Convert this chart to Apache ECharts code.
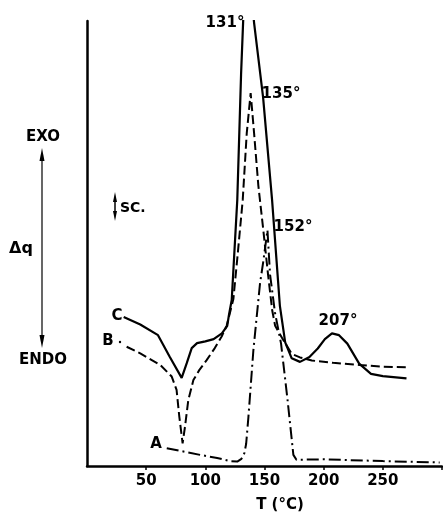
<!DOCTYPE html>
<html>
<head>
<meta charset="utf-8">
<script src="https://cdn.jsdelivr.net/npm/echarts@6/dist/echarts.min.js"></script>
<style>
html,body{margin:0;padding:0;background:#fff;}
#chart{width:443px;height:517px;}
</style>
</head>
<body>
<div id="chart"></div>
<script>
// Temperature (°C) and Δq (arbitrary units, 0 = baseline of the frame, 100 = top)
var tempC = [31, 45, 60, 70, 80, 84.3, 88.5, 93, 100, 107, 114, 118.5, 120, 122.3, 127, 130.2, 132, 135.5, 141.2, 148.8, 156.4, 163, 167.5, 173, 180, 188, 195, 201, 207, 213, 220, 230, 240, 250, 270];
var dqC   = [33.5, 31.8, 29.4, 24.5, 19.8, 23.1, 26.5, 27.6, 28.0, 28.5, 29.8, 31.5, 34, 37.3, 59.8, 88, 100.2, 115, 99.6, 82.9, 59.8, 36, 27.8, 24.2, 23.4, 24.5, 26.4, 28.5, 29.8, 29.4, 27.5, 23.0, 20.7, 20.2, 19.7];

var tempB = [33.5, 45, 62, 71.6, 75.7, 78, 80.8, 82.8, 85.6, 89.9, 95, 101.1, 108, 113.8, 118, 123.7, 127.5, 131.6, 135, 138.3, 141.2, 144.8, 149, 153, 156.5, 159, 165, 173, 180, 190, 208, 230, 250, 270];
var dqB   = [26.8, 25.3, 22.7, 20.1, 17.1, 11.1, 5.1, 8.8, 14.8, 19.3, 21.6, 23.8, 26.5, 29.1, 31.5, 37.5, 48, 59.8, 74.8, 83.8, 74.8, 63, 53, 43, 35, 31.5, 28.7, 25.2, 24.4, 23.7, 23.2, 22.7, 22.3, 22.2];

var tempA = [67.4, 95.5, 110, 121, 127, 130.5, 133, 134.5, 136.4, 140.6, 146.2, 149, 152.5, 154.7, 158.9, 164, 169.5, 174.4, 177, 200, 250, 298];
var dqA   = [4.0, 2.5, 1.8, 1.1, 1.0, 1.6, 2.9, 5, 11, 26, 41, 46, 53, 43, 34.4, 27.5, 14.8, 2.5, 1.4, 1.5, 1.1, 0.8];

var xTickLabels = [50, 100, 150, 200, 250];
var xTickMarks = [50, 100, 150, 200, 250, 300];

function pairs(xs, ys){ return xs.map(function(x,i){ return [x, ys[i]]; }); }

var FONT = 'DejaVu Sans';
var chart = echarts.init(document.getElementById('chart'), null, {renderer:'canvas'});

function txt(x, y, s, size, align){
  return {type:'text', x:x, y:y, style:{text:s, font: 'bold '+(size||16)+'px "'+FONT+'"', fill:'#000', align:align||'center', verticalAlign:'middle'}};
}

chart.setOption({
  animation:false,
  backgroundColor:'#fff',
  grid:{left:87, right:1, top:21, bottom:51},
  xAxis:{
    type:'value', min:0, max:300, interval:50,
    axisLine:{show:true, lineStyle:{color:'#000', width:2.5}},
    axisTick:{show:true, customValues:xTickMarks, length:4, lineStyle:{color:'#000', width:1.5}},
    axisLabel:{show:true, customValues:xTickLabels, color:'#000', fontFamily:FONT, fontWeight:'bold', fontSize:15, margin:8},
    splitLine:{show:false}
  },
  yAxis:{
    type:'value', min:0, max:100,
    axisLine:{show:true, lineStyle:{color:'#000', width:2.5}},
    axisTick:{show:false}, axisLabel:{show:false}, splitLine:{show:false}
  },
  series:[
    {name:'C', type:'line', data:pairs(tempC, dqC), showSymbol:false, symbol:'none', clip:true,
     lineStyle:{color:'#000', width:2.2, type:'solid'}},
    {name:'B', type:'line', data:pairs(tempB, dqB), showSymbol:false, symbol:'none', clip:true,
     lineStyle:{color:'#000', width:2, type:[9,4]}},
    {name:'A', type:'line', data:pairs(tempA, dqA), showSymbol:false, symbol:'none', clip:true,
     lineStyle:{color:'#000', width:2, type:[12,4,2,4]}}
  ],
  graphic:[
    txt(225, 23, '131°', 15),
    txt(281, 94, '135°', 15),
    txt(293, 227, '152°', 15),
    txt(338, 321, '207°', 15),
    txt(117, 316, 'C', 15),
    txt(108, 341, 'B', 15),
    {type:'circle', shape:{cx:120, cy:342, r:1.2}, style:{fill:'#000'}},
    txt(156, 444, 'A', 15),
    txt(43, 137, 'EXO', 15),
    txt(43, 360, 'ENDO', 15),
    txt(21, 249, 'Δq', 16),
    txt(280, 505, 'T (°C)', 15),
    txt(120, 208, 'SC.', 14, 'left'),
    // long double arrow
    {type:'line', shape:{x1:42, y1:158, x2:42, y2:338}, style:{stroke:'#000', lineWidth:1.2}},
    {type:'polygon', shape:{points:[[42,148],[39.5,161],[44.5,161]]}, style:{fill:'#000'}},
    {type:'polygon', shape:{points:[[42,348],[39.5,335],[44.5,335]]}, style:{fill:'#000'}},
    // small scale arrow
    {type:'line', shape:{x1:115, y1:198, x2:115, y2:215}, style:{stroke:'#000', lineWidth:1.5}},
    {type:'polygon', shape:{points:[[115,192],[113,202],[117,202]]}, style:{fill:'#000'}},
    {type:'polygon', shape:{points:[[115,221],[113,211],[117,211]]}, style:{fill:'#000'}}
  ]
});
</script>
</body>
</html>
